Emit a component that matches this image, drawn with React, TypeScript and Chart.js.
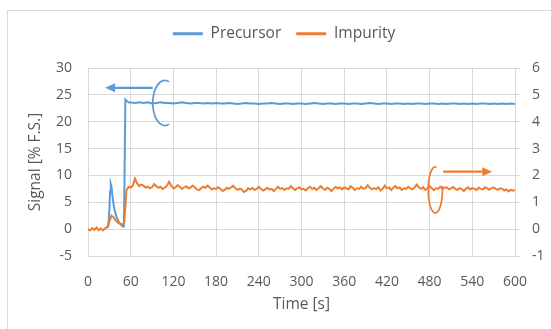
import React, { useEffect, useRef } from "react";
import { Chart, registerables } from "chart.js";

Chart.register(...registerables);

const PRECURSOR_COLOR = "#5B9BD5";
const IMPURITY_COLOR = "#ED7D31";
const GRID_COLOR = "#D9D9D9";
const TEXT_COLOR = "#595959";
const FONT_FAMILY = "'Open Sans', sans-serif";

// Axis ranges / tick steps
const timeAxis = { min: 0, max: 600, step: 60 };
const signalAxis = { min: -5, max: 30, step: 5 };
const impurityAxis = { min: -1, max: 6, step: 1 };

// Precursor (left axis, % F.S.)
const precursorTimes = [
  27, 28.5, 30, 31, 32, 33, 34, 35.5, 37, 39, 41, 43, 45, 47, 49, 50.5, 51.5, 52.5, 54, 56, 58,
  60, 66, 72, 78, 84, 90, 96, 102, 108, 114,
  120, 126, 132, 138, 144, 150, 156, 162, 168, 174,
  180, 186, 192, 198, 204, 210, 216, 222, 228, 234,
  240, 246, 252, 258, 264, 270, 276, 282, 288, 294,
  300, 306, 312, 318, 324, 330, 336, 342, 348, 354,
  360, 366, 372, 378, 384, 390, 396, 402, 408, 414,
  420, 426, 432, 438, 444, 450, 456, 462, 468, 474,
  480, 486, 492, 498, 504, 510, 516, 522, 528, 534,
  540, 546, 552, 558, 564, 570, 576, 582, 588, 594,
  600,
];
const precursorSignal = [
  0.2, 0.5, 3.5, 7.0, 8.4, 7.9, 6.6, 5.0, 3.8, 2.7, 2.0, 1.4, 1.0, 0.7, 0.5, 0.5, 12.0, 24.1, 23.9, 23.7, 23.6,
  23.6, 23.5, 23.6, 23.5, 23.6, 23.4, 23.5, 23.6, 23.5, 23.5,
  23.4, 23.5, 23.6, 23.5, 23.4, 23.5, 23.5, 23.4, 23.5, 23.4,
  23.5, 23.4, 23.4, 23.5, 23.4, 23.3, 23.4, 23.5, 23.4, 23.4,
  23.3, 23.4, 23.4, 23.5, 23.4, 23.3, 23.4, 23.4, 23.3, 23.4,
  23.4, 23.3, 23.4, 23.5, 23.4, 23.3, 23.4, 23.4, 23.3, 23.4,
  23.4, 23.3, 23.4, 23.4, 23.3, 23.4, 23.5, 23.4, 23.3, 23.4,
  23.4, 23.3, 23.4, 23.4, 23.3, 23.4, 23.3, 23.4, 23.4, 23.3,
  23.4, 23.4, 23.3, 23.4, 23.3, 23.4, 23.4, 23.3, 23.4, 23.3,
  23.4, 23.3, 23.4, 23.4, 23.3, 23.4, 23.3, 23.4, 23.3, 23.4,
  23.3,
];

// Impurity (right axis), sampled every 3 s from 0 to 600 s
const IMPURITY_SAMPLE_INTERVAL = 3;
const impuritySignal = [
  0.0, -0.05, 0.04, -0.03, 0.06, -0.04, 0.02, -0.05, 0.03, 0.08,
  0.28, 0.5, 0.44, 0.32, 0.24, 0.2, 0.18, 0.24, 1.45, 1.58,
  1.55, 1.62, 1.88, 1.7, 1.6, 1.66, 1.62, 1.55, 1.58, 1.52,
  1.56, 1.68, 1.6, 1.54, 1.58, 1.5, 1.55, 1.62, 1.76, 1.62,
  1.52, 1.55, 1.64, 1.58, 1.5, 1.56, 1.6, 1.52, 1.55, 1.62,
  1.56, 1.48, 1.45, 1.52, 1.58, 1.54, 1.62, 1.55, 1.48, 1.52,
  1.5, 1.56, 1.5, 1.42, 1.46, 1.54, 1.5, 1.55, 1.62, 1.52,
  1.46, 1.5, 1.48, 1.38, 1.42, 1.52, 1.48, 1.53, 1.46, 1.5,
  1.58, 1.5, 1.44, 1.48, 1.54, 1.47, 1.5, 1.42, 1.5, 1.58,
  1.5, 1.53, 1.46, 1.52, 1.5, 1.6, 1.52, 1.46, 1.52, 1.56,
  1.48, 1.5, 1.44, 1.52, 1.58, 1.5, 1.54, 1.46, 1.52, 1.6,
  1.52, 1.46, 1.54, 1.5, 1.42, 1.5, 1.58, 1.52, 1.55, 1.48,
  1.56, 1.52, 1.48, 1.6, 1.54, 1.46, 1.52, 1.5, 1.58, 1.5,
  1.53, 1.64, 1.54, 1.48, 1.53, 1.49, 1.56, 1.44, 1.5, 1.62,
  1.52, 1.55, 1.46, 1.54, 1.6, 1.52, 1.55, 1.46, 1.52, 1.5,
  1.58, 1.52, 1.48, 1.56, 1.66, 1.55, 1.5, 1.56, 1.46, 1.52,
  1.6, 1.52, 1.45, 1.52, 1.5, 1.58, 1.5, 1.54, 1.56, 1.48,
  1.52, 1.57, 1.5, 1.46, 1.53, 1.5, 1.42, 1.5, 1.56, 1.48,
  1.53, 1.5, 1.46, 1.54, 1.5, 1.48, 1.56, 1.52, 1.47, 1.53,
  1.55, 1.5, 1.46, 1.52, 1.5, 1.44, 1.48, 1.4, 1.46, 1.43,
  1.46,
];
const impurityTimes = impuritySignal.map((_, i) => i * IMPURITY_SAMPLE_INTERVAL);

// Axis-indicator annotations (in data units)
const precursorMarker = {
  ringTime: 108, ringValue: 23.5, ringTimeRadius: 17, ringValueRadius: 4.2,
  arrowFrom: 91, arrowTo: 24, arrowValue: 26.3,
};
const impurityMarker = {
  ringTime: 488, ringValue: 1.46, ringTimeRadius: 10, ringValueRadius: 0.86,
  arrowFrom: 499, arrowTo: 568, arrowValue: 2.14,
};

function drawMarker(ctx: CanvasRenderingContext2D, xs: any, ys: any, m: any, color: string,
  start: number, end: number, anticlockwise: boolean) {
  const cx = xs.getPixelForValue(m.ringTime);
  const cy = ys.getPixelForValue(m.ringValue);
  const rx = Math.abs(xs.getPixelForValue(m.ringTime + m.ringTimeRadius) - cx);
  const ry = Math.abs(ys.getPixelForValue(m.ringValue + m.ringValueRadius) - cy);
  ctx.strokeStyle = color;
  ctx.fillStyle = color;
  ctx.lineWidth = 1.75;
  ctx.beginPath();
  ctx.ellipse(cx, cy, rx, ry, 0, start, end, anticlockwise);
  ctx.stroke();
  const x0 = xs.getPixelForValue(m.arrowFrom);
  const x1 = xs.getPixelForValue(m.arrowTo);
  const ay = ys.getPixelForValue(m.arrowValue);
  const dir = Math.sign(x1 - x0);
  const headLen = 10;
  const headHalf = 4.5;
  ctx.lineWidth = 2.25;
  ctx.beginPath();
  ctx.moveTo(x0, ay);
  ctx.lineTo(x1 - dir * headLen, ay);
  ctx.stroke();
  ctx.beginPath();
  ctx.moveTo(x1, ay);
  ctx.lineTo(x1 - dir * headLen, ay - headHalf);
  ctx.lineTo(x1 - dir * headLen, ay + headHalf);
  ctx.closePath();
  ctx.fill();
}

const markerPlugin = {
  id: "axisMarkers",
  afterDatasetsDraw(chart: any) {
    const { ctx, scales } = chart;
    ctx.save();
    const deg = Math.PI / 180;
    drawMarker(ctx, scales.x, scales.y, precursorMarker, PRECURSOR_COLOR, -70 * deg, 70 * deg, true);
    drawMarker(ctx, scales.x, scales.y1, impurityMarker, IMPURITY_COLOR, -80 * deg, -10 * deg, true);
    ctx.restore();
  },
};

export default function App() {
  const canvasRef = useRef<HTMLCanvasElement | null>(null);

  useEffect(() => {
    if (!canvasRef.current) return;
    const tickFont = { family: FONT_FAMILY, size: 14 };
    const titleFont = { family: FONT_FAMILY, size: 15.5 };
    const chart = new Chart(canvasRef.current, {
      type: "line",
      data: {
        datasets: [
          {
            label: "Precursor",
            data: precursorTimes.map((t, i) => ({ x: t, y: precursorSignal[i] })),
            xAxisID: "x",
            yAxisID: "y",
            borderColor: PRECURSOR_COLOR,
            backgroundColor: PRECURSOR_COLOR,
            borderWidth: 2,
            pointRadius: 0,
            tension: 0,
            order: 1,
          },
          {
            label: "Impurity",
            data: impurityTimes.map((t, i) => ({ x: t, y: impuritySignal[i] })),
            xAxisID: "x",
            yAxisID: "y1",
            borderColor: IMPURITY_COLOR,
            backgroundColor: IMPURITY_COLOR,
            borderWidth: 2,
            pointRadius: 0,
            tension: 0,
            order: 0,
          },
        ],
      },
      options: {
        animation: false,
        responsive: false,
        devicePixelRatio: 1,
        events: [],
        layout: { padding: { left: 17, right: 0, top: 11, bottom: 13 } },
        plugins: {
          tooltip: { enabled: false },
          legend: {
            position: "top",
            labels: {
              font: titleFont,
              color: TEXT_COLOR,
              boxWidth: 30,
              boxHeight: 3,
              padding: 15,
              sort: (a: any, b: any) => a.datasetIndex - b.datasetIndex,
              generateLabels: (c: any) =>
                Chart.defaults.plugins.legend.labels.generateLabels(c).map((l: any) => ({
                  ...l,
                  lineWidth: 0,
                  fillStyle: l.strokeStyle,
                })),
            },
          },
        },
        scales: {
          x: {
            type: "linear",
            position: "bottom",
            min: timeAxis.min,
            max: timeAxis.max,
            ticks: {
              stepSize: timeAxis.step,
              autoSkip: false,
              maxRotation: 0,
              color: TEXT_COLOR,
              font: tickFont,
              padding: 18,
            },
            grid: { color: GRID_COLOR, drawTicks: false },
            border: { display: false },
            title: {
              display: true,
              text: "Time [s]",
              color: TEXT_COLOR,
              font: titleFont,
              padding: { top: 0, bottom: 2 },
            },
            afterFit: (s: any) => { s.height = 60; },
          },
          xTop: {
            type: "linear",
            position: "top",
            display: true,
            grid: { display: false },
            border: { display: false },
            ticks: { display: false },
            afterFit: (s: any) => { s.height = 16.5; },
          },
          y: {
            type: "linear",
            position: "left",
            min: signalAxis.min,
            max: signalAxis.max,
            ticks: { stepSize: signalAxis.step, color: TEXT_COLOR, font: tickFont, padding: 16 },
            grid: { color: GRID_COLOR, drawTicks: false },
            border: { display: false },
            title: {
              display: true,
              text: "Signal [% F.S.]",
              color: TEXT_COLOR,
              font: titleFont,
              padding: { top: 9, bottom: 0 },
            },
            afterFit: (s: any) => { s.width = 71; },
          },
          y1: {
            type: "linear",
            position: "right",
            min: impurityAxis.min,
            max: impurityAxis.max,
            ticks: { stepSize: impurityAxis.step, color: TEXT_COLOR, font: tickFont, padding: 12 },
            grid: { color: GRID_COLOR, drawOnChartArea: false, drawTicks: true, tickLength: 5 },
            border: { display: false },
            afterFit: (s: any) => { s.width = 36; },
          },
        },
      },
      plugins: [markerPlugin],
    } as any);
    return () => chart.destroy();
  }, []);

  return (
    <div>
      <div
        style={{
          position: "fixed",
          left: 7,
          top: 10,
          width: 600,
          height: 400,
          border: "1px solid #D9D9D9",
          background: "#FFFFFF",
        }}
      />
      <div style={{ position: "fixed", left: 0, top: 0, width: 551, height: 329 }}>
        <canvas ref={canvasRef} width={551} height={329} style={{ width: 551, height: 329, display: "block" }} />
      </div>
    </div>
  );
}
